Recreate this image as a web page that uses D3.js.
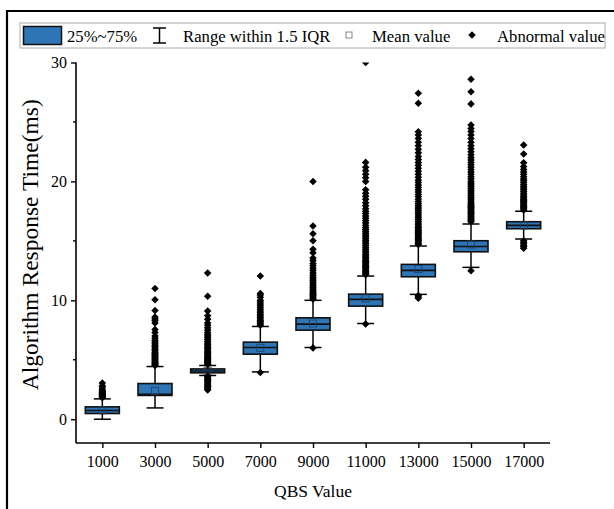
<!DOCTYPE html>
<html>
<head>
<meta charset="utf-8">
<script src="https://cdn.jsdelivr.net/npm/d3@7/dist/d3.min.js"></script>
<style>
html,body{margin:0;padding:0;background:#fff;}
svg{display:block;}
text{font-family:"Liberation Serif","Times New Roman",serif;fill:#000;}
</style>
</head>
<body>
<svg id="chart" width="614" height="509"></svg>
<script>
const categories = ["1000","3000","5000","7000","9000","11000","13000","15000","17000"];
const q1 = [0.48, 2.0, 3.9, 5.47, 7.49, 9.51, 11.98, 14.08, 16.02];
const median = [0.73, 2.1, 4.05, 6.03, 8.0, 10.08, 12.52, 14.53, 16.3];
const q3 = [1.04, 3.0, 4.23, 6.48, 8.53, 10.52, 13.02, 15.01, 16.61];
const lowerWhisker = [0.0, 0.95, 3.68, 3.98, 6.03, 8.05, 10.5, 12.77, 15.15];
const upperWhisker = [1.71, 4.43, 4.52, 7.8, 10.0, 12.04, 14.56, 16.41, 17.48];
const means = [0.75, 2.38, 4.07, 6.0, 8.05, 10.16, 12.63, 14.7, 16.3];
const outliers = [
  [1.8,1.86,1.92,1.97,2.03,2.08,2.14,2.2,2.27,2.35,2.44,2.55,2.7,2.82,3.05],
  [4.52,4.6,4.68,4.75,4.84,4.92,5.0,5.08,5.17,5.26,5.35,5.44,5.52,5.63,5.75,5.86,5.98,6.1,6.22,6.35,6.5,6.62,6.8,7.0,7.3,7.55,8.1,8.3,8.45,8.6,9.15,10.05,11.0],
  [2.45,2.55,2.65,2.75,2.85,2.95,3.05,3.15,3.25,3.35,3.45,3.55,3.62,
   4.6,4.68,4.76,4.85,4.93,5.02,5.1,5.2,5.3,5.4,5.5,5.6,5.7,5.82,5.94,6.05,6.17,6.3,6.42,6.55,6.7,6.85,7.0,7.15,7.3,7.5,7.7,7.9,8.1,8.4,8.7,9.1,10.35,12.3],
  [3.92,7.9,8.0,8.1,8.2,8.3,8.42,8.55,8.68,8.8,8.95,9.1,9.25,9.4,9.55,9.7,9.85,10.0,10.25,10.45,10.58,12.05],
  [6.0,10.1,10.2,10.3,10.4,10.5,10.6,10.7,10.82,10.95,11.08,11.2,11.35,11.5,11.65,11.8,11.95,12.1,12.3,12.5,12.7,12.9,13.1,13.35,13.55,14.0,14.3,15.0,15.6,16.25,20.0],
  [8.0,12.15,12.25,12.35,12.45,12.55,12.65,12.75,12.85,12.95,13.05,13.15,13.25,13.35,13.48,13.6,13.72,13.85,14.0,14.15,14.3,14.45,14.6,14.75,14.9,15.05,15.2,15.35,15.5,15.65,15.8,15.95,16.1,16.3,16.5,16.7,16.9,17.1,17.3,17.5,17.7,17.95,18.2,18.5,18.75,19.0,19.3,20.0,20.3,20.6,20.9,21.2,21.6,30.0],
  [10.18,10.3,10.4,14.7,14.8,14.9,15.0,15.1,15.2,15.3,15.4,15.5,15.6,15.7,15.8,15.9,16.0,16.1,16.2,16.35,16.5,16.65,16.8,16.95,17.1,17.25,17.4,17.55,17.7,17.85,18.0,18.15,18.3,18.5,18.7,18.9,19.1,19.3,19.5,19.7,19.9,20.1,20.35,20.6,20.85,21.1,21.35,21.6,21.85,22.1,22.4,22.7,23.0,23.3,23.6,23.9,24.18,26.57,27.42],
  [12.48,16.6,16.7,16.8,16.9,17.0,17.1,17.2,17.3,17.4,17.5,17.6,17.7,17.8,17.9,18.0,18.1,18.2,18.35,18.5,18.65,18.8,18.95,19.1,19.25,19.4,19.55,19.7,19.85,20.0,20.2,20.4,20.6,20.8,21.0,21.2,21.4,21.6,21.8,22.0,22.25,22.5,22.75,23.0,23.3,23.6,23.9,24.2,24.45,24.75,26.52,27.55,28.6],
  [14.38,14.5,14.62,14.75,14.88,15.0,17.6,17.7,17.8,17.9,18.0,18.1,18.2,18.3,18.4,18.5,18.6,18.7,18.85,19.0,19.15,19.3,19.45,19.6,19.75,19.9,20.05,20.2,20.4,20.6,20.8,21.0,21.25,21.57,22.3,23.06]
];
const yTicks = [0,10,20,30];
const yMinorTicks = [5,15,25];
const legendLabels = ["25%~75%","Range within 1.5 IQR","Mean value","Abnormal value"];

const svg = d3.select("#chart");
const pL = 76, pR = 550, pT = 62.5, pB = 443;
const boxColor = "#2e75b6";

const x = d3.scalePoint().domain(categories).range([pL, pR]).padding(0.5);
const y = d3.scaleLinear().domain([-2, 30]).range([pB, pT]);
const boxW = 34, capW = 17;

// outer frame
svg.append("path").attr("d", "M7,509 L7,11 L614,11").attr("fill","none").attr("stroke","#000").attr("stroke-width",2.2);

// clip
svg.append("defs").append("clipPath").attr("id","plotclip")
  .append("rect").attr("x", pL).attr("y", pT).attr("width", pR-pL).attr("height", pB-pT);

const plot = svg.append("g").attr("clip-path","url(#plotclip)");
const diamond = d3.symbol().type(d3.symbolDiamond2).size(36);

categories.forEach((c,i) => {
  const cx = x(c);
  const g = plot.append("g");
  g.append("line").attr("x1",cx).attr("x2",cx).attr("y1",y(q3[i])).attr("y2",y(upperWhisker[i])).attr("stroke","#000").attr("stroke-width",1.5);
  g.append("line").attr("x1",cx).attr("x2",cx).attr("y1",y(q1[i])).attr("y2",y(lowerWhisker[i])).attr("stroke","#000").attr("stroke-width",1.5);
  g.append("line").attr("x1",cx-capW/2).attr("x2",cx+capW/2).attr("y1",y(upperWhisker[i])).attr("y2",y(upperWhisker[i])).attr("stroke","#000").attr("stroke-width",1.5);
  g.append("line").attr("x1",cx-capW/2).attr("x2",cx+capW/2).attr("y1",y(lowerWhisker[i])).attr("y2",y(lowerWhisker[i])).attr("stroke","#000").attr("stroke-width",1.5);
  g.append("rect").attr("x",cx-boxW/2).attr("width",boxW).attr("y",y(q3[i])).attr("height",y(q1[i])-y(q3[i]))
    .attr("fill",boxColor).attr("stroke","#111").attr("stroke-width",1.6);
  g.append("line").attr("x1",cx-boxW/2).attr("x2",cx+boxW/2).attr("y1",y(median[i])).attr("y2",y(median[i])).attr("stroke","#111").attr("stroke-width",1.6);
  g.append("rect").attr("x",cx-3.5).attr("y",y(means[i])-3.5).attr("width",7).attr("height",7)
    .attr("fill","none").attr("stroke","#1b3f66").attr("stroke-opacity",0.8).attr("stroke-width",1);
  g.selectAll("path.o").data(outliers[i]).enter().append("path")
    .attr("transform", d => `translate(${cx},${y(d)})`).attr("d", diamond).attr("fill","#000");
});

// axes
const yAxis = d3.axisLeft(y).tickValues(yTicks).tickSize(5).tickSizeOuter(0).tickPadding(4);
const gy = svg.append("g").attr("transform",`translate(${pL},0)`).call(yAxis);
gy.select(".domain").attr("d", `M0,${pT}V${pB}`).attr("stroke-width",1.6);
gy.selectAll(".tick line").attr("stroke-width",1.4);
gy.selectAll(".tick text").attr("font-size",16).attr("font-family","Liberation Serif");
gy.selectAll(".minor").data(yMinorTicks).enter().append("line")
  .attr("x1",-3).attr("x2",0).attr("y1",d=>y(d)).attr("y2",d=>y(d)).attr("stroke","#000").attr("stroke-width",1.4);

const xAxis = d3.axisBottom(x).tickSize(5).tickSizeOuter(0).tickPadding(8);
const gx = svg.append("g").attr("transform",`translate(0,${pB})`).call(xAxis);
gx.select(".domain").attr("d", `M${pL},0H${pR}`).attr("stroke-width",1.6);
gx.selectAll(".tick line").attr("stroke-width",1.4);
gx.selectAll(".tick text").attr("font-size",16).attr("font-family","Liberation Serif");

// titles
svg.append("text").attr("x",(pL+pR)/2).attr("y",497).attr("text-anchor","middle").attr("font-size",17.5).text("QBS Value");
svg.append("text").attr("transform",`translate(38,${(pT+pB)/2 - 8}) rotate(-90)`).attr("text-anchor","middle").attr("font-size",23.5).text("Algorithm Response Time(ms)");

// legend
const lg = svg.append("g");
const lfs = 16.7;
lg.append("rect").attr("x",20).attr("y",23).attr("width",585).attr("height",25).attr("fill","#fff").attr("stroke","#aaa").attr("stroke-width",1);
lg.append("rect").attr("x",23.5).attr("y",26.5).attr("width",38).attr("height",18).attr("fill",boxColor).attr("stroke","#111").attr("stroke-width",1.5);
lg.append("text").attr("x",67).attr("y",41.5).attr("font-size",lfs).text(legendLabels[0]);
lg.append("line").attr("x1",159.5).attr("x2",159.5).attr("y1",28).attr("y2",43).attr("stroke","#000").attr("stroke-width",1.5);
lg.append("line").attr("x1",153).attr("x2",166).attr("y1",28).attr("y2",28).attr("stroke","#000").attr("stroke-width",1.5);
lg.append("line").attr("x1",153).attr("x2",166).attr("y1",43).attr("y2",43).attr("stroke","#000").attr("stroke-width",1.5);
lg.append("text").attr("x",183).attr("y",41.5).attr("font-size",lfs).text(legendLabels[1]);
lg.append("rect").attr("x",346).attr("y",32).attr("width",6).attr("height",6).attr("fill","#fff").attr("stroke","#888").attr("stroke-width",1);
lg.append("text").attr("x",372).attr("y",41.5).attr("font-size",lfs).text(legendLabels[2]);
lg.append("path").attr("transform","translate(472,35)").attr("d",diamond).attr("fill","#000");
lg.append("text").attr("x",497).attr("y",41.5).attr("font-size",lfs).text(legendLabels[3]);
</script>
</body>
</html>
